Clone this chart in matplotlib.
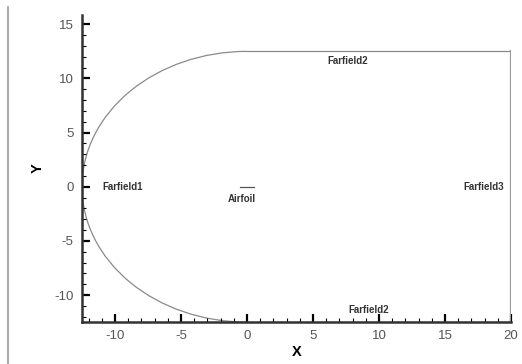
import matplotlib
matplotlib.use("Agg")
import matplotlib.pyplot as plt
from matplotlib.lines import Line2D
from matplotlib.patches import Arc
from matplotlib.ticker import MultipleLocator

plt.rcParams["font.family"] = ["Liberation Sans", "DejaVu Sans"]
plt.rcParams["axes.unicode_minus"] = False

# far-field geometry (C-mesh domain)
farfield_radius = 12.5
top_x = [0.0, 20.0]
top_y = [12.5, 12.5]
bottom_x = [0.0, 20.0]
bottom_y = [-12.5, -12.5]
right_x = [20.0, 20.0]
right_y = [-12.5, 12.5]
airfoil_x = [-0.5, 0.5]
airfoil_y = [0.0, 0.0]

labels = ["Farfield1", "Farfield2", "Farfield3", "Farfield2", "Airfoil"]
label_x = [-9.4, 7.6, 17.9, 9.2, -0.4]
label_y = [0.0, 11.6, 0.0, -11.4, -1.1]

fig = plt.figure(figsize=(5.22, 3.64), dpi=100)
ax = fig.add_axes([0.157, 0.115, 0.822, 0.845])

line_kw = dict(color="#8a8a8a", linewidth=0.9)
ax.add_patch(Arc((0, 0), 2 * farfield_radius, 2 * farfield_radius,
                 theta1=90, theta2=270, **line_kw))
ax.plot(top_x, top_y, **line_kw)
ax.plot(bottom_x, bottom_y, **line_kw)
ax.plot(right_x, right_y, color="#9a9a9a", linewidth=1.6)
ax.plot(airfoil_x, airfoil_y, color="#555555", linewidth=0.9)

for text, x, y in zip(labels, label_x, label_y):
    ax.text(x, y, text, fontsize=7, fontweight="bold", ha="center",
            va="center", color="#333333")

ax.set_xlim(-12.5, 20)
ax.set_ylim(-12.5, 15.9)
ax.xaxis.set_major_locator(MultipleLocator(5))
ax.xaxis.set_minor_locator(MultipleLocator(1))
ax.yaxis.set_major_locator(MultipleLocator(5))
ax.yaxis.set_minor_locator(MultipleLocator(1))
ax.tick_params(which="major", direction="in", length=6, width=1.6,
               labelsize=9.5, labelcolor="#555555", pad=6)
ax.tick_params(which="minor", direction="in", length=3, width=0.8)

for side in ["top", "right"]:
    ax.spines[side].set_visible(False)
for side in ["left", "bottom"]:
    ax.spines[side].set_linewidth(1.8)
    ax.spines[side].set_color("#333333")

ax.set_xlabel("X", fontsize=10.5, fontweight="bold", labelpad=2)
ax.set_ylabel("Y", fontsize=10.5, fontweight="bold", labelpad=7)

# grey border line at the left edge of the image
fig.add_artist(Line2D([0.016, 0.016], [0.0, 0.98], color="#9a9a9a",
                      linewidth=1.2, transform=fig.transFigure))

fig.savefig("out.png", dpi=100)
